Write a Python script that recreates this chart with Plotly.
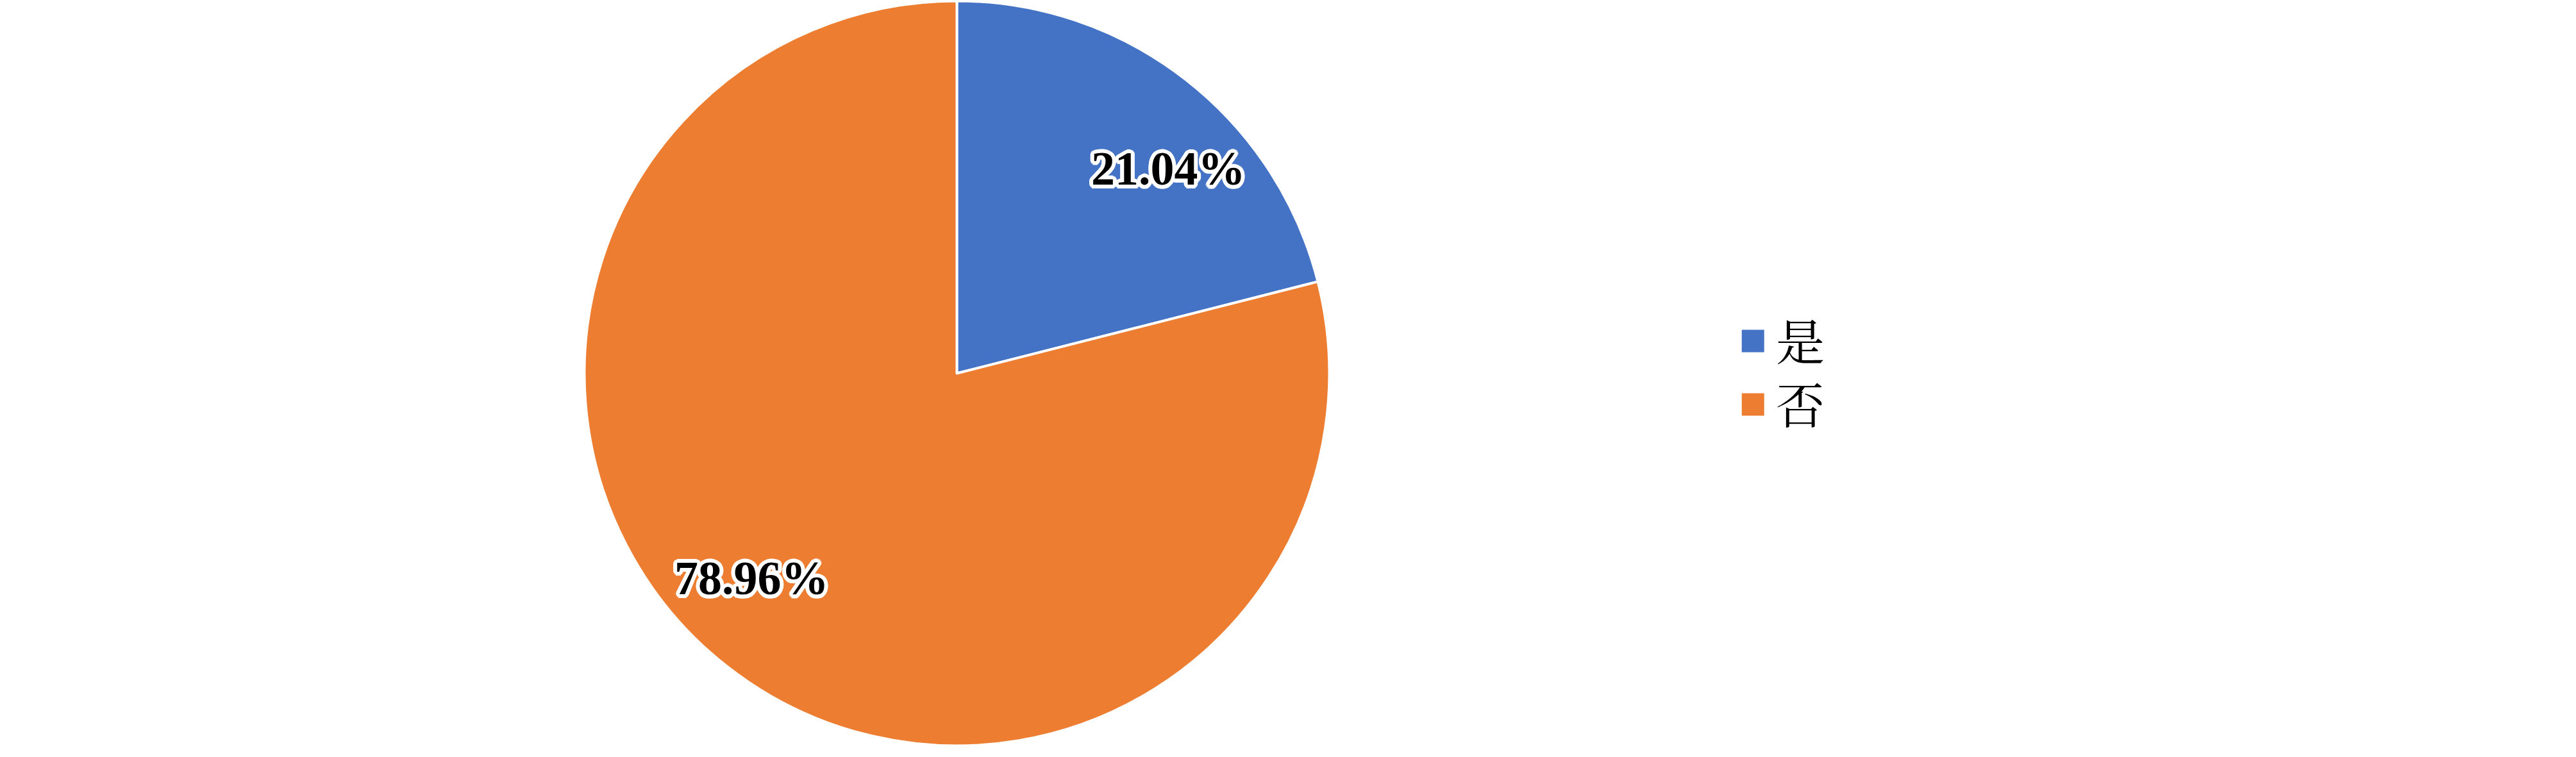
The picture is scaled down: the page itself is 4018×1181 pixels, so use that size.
import math
import plotly.graph_objects as go

categories = ["是", "否"]
values = [21.04, 78.96]
colors = ["#4472C4", "#ED7D31"]

offs = []
for r in (2, 4, 6):
    for k in range(16):
        a = 2 * math.pi * k / 16
        offs.append(f"{r*math.cos(a):.1f}px {r*math.sin(a):.1f}px 0px white")
shadow = ", ".join(offs)

dom_x = [0.22685, 0.51605]
dom_y = [0.01482, 0.99873]

fig = go.Figure()
fig.add_trace(go.Pie(
    labels=categories,
    values=values,
    sort=False,
    direction="clockwise",
    rotation=0,
    marker=dict(colors=colors, line=dict(color="white", width=4)),
    textinfo="none",
    domain=dict(x=dom_x, y=dom_y),
    showlegend=False,
    hoverinfo="label+percent",
))

# percentage labels placed along each slice, derived from the values
W, H = 4018, 1181
cx = (dom_x[0] + dom_x[1]) / 2 * W + 5
cy = (dom_y[0] + dom_y[1]) / 2 * H
R = (dom_y[1] - dom_y[0]) * H / 2
total = sum(values)
cum = 0.0
for v in values:
    mid = (cum + v / 2) / total * 360 + 7.6
    cum += v
    a = math.radians(mid)
    px = cx + 0.785 * R * math.sin(a)
    py = cy + 0.785 * R * math.cos(a)
    fig.add_annotation(xref="paper", yref="paper", x=px / W, y=py / H,
                       xanchor="center", yanchor="middle", showarrow=False,
                       text=f"{v:.2f}%",
                       font=dict(family="Liberation Serif", size=74, color="black",
                                 weight="bold", shadow=shadow))

# legend drawn as squares + text
leg_x = 0.6805
leg_y0 = 0.5495
leg_dy = 0.0838
sq_w = 35 / W
sq_h = 35 / H
for i, (name, c) in enumerate(zip(categories, colors)):
    y = leg_y0 - i * leg_dy
    fig.add_shape(type="rect", xref="paper", yref="paper",
                  x0=leg_x - sq_w / 2, x1=leg_x + sq_w / 2,
                  y0=y - sq_h / 2, y1=y + sq_h / 2,
                  fillcolor=c, line=dict(width=0))
    fig.add_annotation(xref="paper", yref="paper", x=leg_x + 0.0083, y=y + 0.002,
                       xanchor="left", yanchor="middle", showarrow=False,
                       text=name,
                       font=dict(family="Noto Serif CJK SC, Noto Sans CJK SC", size=76, color="black"))

fig.update_layout(
    width=W, height=H,
    margin=dict(l=0, r=0, t=0, b=0),
    paper_bgcolor="white", plot_bgcolor="white",
)
fig.write_html("out.html", config={"displayModeBar": False},
               post_script="document.body.style.margin='0';")
